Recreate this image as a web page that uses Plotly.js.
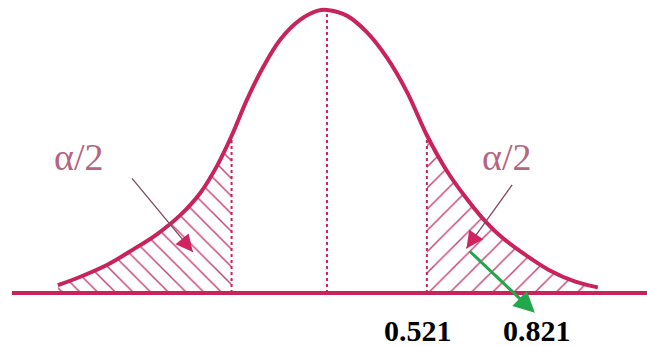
<!DOCTYPE html>
<html>
<head>
<meta charset="utf-8">
<script src="https://cdn.plot.ly/plotly-3.0.1.min.js"></script>
<style>
  html, body { margin: 0; padding: 0; background: #fff; }
  #chart { width: 647px; height: 346px; }
</style>
</head>
<body>
<div id="chart"></div>
<script>
// curve: z position and height (density-like units)
const curveZ = [-2.99, -2.74, -2.44, -2.16, -1.89, -1.63, -1.41, -1.22, -1.06, -0.89, -0.71, -0.52, -0.30, -0.10, 0.00,
                0.22, 0.44, 0.67, 0.89, 1.11, 1.34, 1.53, 1.72, 1.94, 2.17, 2.46, 2.76, 3.01];
const curveY = [0.011, 0.023, 0.040, 0.061, 0.083, 0.110, 0.141, 0.180, 0.222, 0.273, 0.319, 0.358, 0.386, 0.399, 0.400,
                0.392, 0.369, 0.332, 0.284, 0.223, 0.171, 0.137, 0.107, 0.079, 0.057, 0.033, 0.016, 0.008];

const lowerCut = -1.06;
const upperCut = 1.11;
const tailLabels = ['α/2', 'α/2'];
const critLabels = ['0.521', '0.821'];

const PINK = '#c8235a';
const HATCH = '#c9457a';

function heightAt(z) {
  return curveY[curveZ.indexOf(z)];
}

const leftIdx = curveZ.map((z, i) => i).filter(i => curveZ[i] <= lowerCut);
const rightIdx = curveZ.map((z, i) => i).filter(i => curveZ[i] >= upperCut);

const dashed = { color: PINK, width: 2, dash: 'dot' };

const traces = [
  {
    x: leftIdx.map(i => curveZ[i]), y: leftIdx.map(i => curveY[i]),
    type: 'scatter', mode: 'lines',
    line: { width: 0, shape: 'spline', smoothing: 1 },
    fill: 'tozeroy', fillcolor: 'rgba(0,0,0,0)',
    fillpattern: { shape: '\\', size: 12.5, solidity: 0.12, fgcolor: HATCH, bgcolor: 'rgba(0,0,0,0)' },
    hoverinfo: 'skip',
  },
  {
    x: rightIdx.map(i => curveZ[i]), y: rightIdx.map(i => curveY[i]),
    type: 'scatter', mode: 'lines',
    line: { width: 0, shape: 'spline', smoothing: 1 },
    fill: 'tozeroy', fillcolor: 'rgba(0,0,0,0)',
    fillpattern: { shape: '/', size: 15, solidity: 0.1, fgcolor: HATCH, bgcolor: 'rgba(0,0,0,0)' },
    hoverinfo: 'skip',
  },
  // dashed verticals: cut points and centre
  { x: [lowerCut, lowerCut], y: [0, heightAt(lowerCut)], type: 'scatter', mode: 'lines', line: dashed, hoverinfo: 'skip' },
  { x: [upperCut, upperCut], y: [0, heightAt(upperCut)], type: 'scatter', mode: 'lines', line: dashed, hoverinfo: 'skip' },
  { x: [0, 0], y: [0, heightAt(0)], type: 'scatter', mode: 'lines', line: dashed, hoverinfo: 'skip' },
  {
    x: curveZ, y: curveY,
    type: 'scatter', mode: 'lines',
    line: { color: PINK, width: 4, shape: 'spline', smoothing: 1 },
    hoverinfo: 'skip',
  },
  // baseline
  { x: [-3.50, 3.60], y: [0, 0], type: 'scatter', mode: 'lines', line: { color: PINK, width: 4 }, hoverinfo: 'skip' },
];

const labelFont = { family: 'Liberation Serif, Times New Roman, serif', size: 38, color: '#b56483' };
const critFont = { family: 'Liberation Serif, Times New Roman, serif', size: 30, color: '#000' };

const annotations = [
  { x: -2.76, y: 0.192, text: tailLabels[0], showarrow: false, font: labelFont },
  { x: 1.99, y: 0.192, text: tailLabels[1], showarrow: false, font: labelFont },
  // pointer arrows into the tails: thin dark shaft, pink head
  { x: -1.49, y: 0.058, ax: -2.18, ay: 0.164, axref: 'x', ayref: 'y', text: '',
    showarrow: true, arrowhead: 0, arrowwidth: 1.3, arrowcolor: '#7d4a60' },
  { x: -1.49, y: 0.058, ax: -1.62, ay: 0.078, axref: 'x', ayref: 'y', text: '',
    showarrow: true, arrowhead: 2, arrowsize: 1.7, arrowwidth: 2, arrowcolor: '#d0245e' },
  { x: 1.55, y: 0.063, ax: 2.07, ay: 0.155, axref: 'x', ayref: 'y', text: '',
    showarrow: true, arrowhead: 0, arrowwidth: 1.3, arrowcolor: '#7d4a60' },
  { x: 1.55, y: 0.063, ax: 1.66, ay: 0.083, axref: 'x', ayref: 'y', text: '',
    showarrow: true, arrowhead: 2, arrowsize: 1.7, arrowwidth: 2, arrowcolor: '#d0245e' },
  // green arrow
  { x: 2.31, y: -0.028, ax: 1.57, ay: 0.061, axref: 'x', ayref: 'y', text: '',
    showarrow: true, arrowhead: 2, arrowsize: 1.4, arrowwidth: 3, arrowcolor: '#22a84a' },
  { x: 1.01, y: -0.0516, height: 28, text: '<b>' + critLabels[0] + '</b>', showarrow: false, font: critFont },
  { x: 2.33, y: -0.0516, height: 28, text: '<b>' + critLabels[1] + '</b>', showarrow: false, font: critFont },
];

const axisOff = { visible: false, showgrid: false, zeroline: false, fixedrange: true };

Plotly.newPlot('chart', traces, {
  width: 647, height: 346,
  margin: { l: 0, r: 0, t: 0, b: 0 },
  paper_bgcolor: '#fff', plot_bgcolor: '#fff',
  showlegend: false,
  xaxis: { ...axisOff, range: [-3.633, 3.556] },
  yaxis: { ...axisOff, range: [-0.0749, 0.4141] },
  annotations,
}, { displayModeBar: false, staticPlot: true });
</script>
</body>
</html>
